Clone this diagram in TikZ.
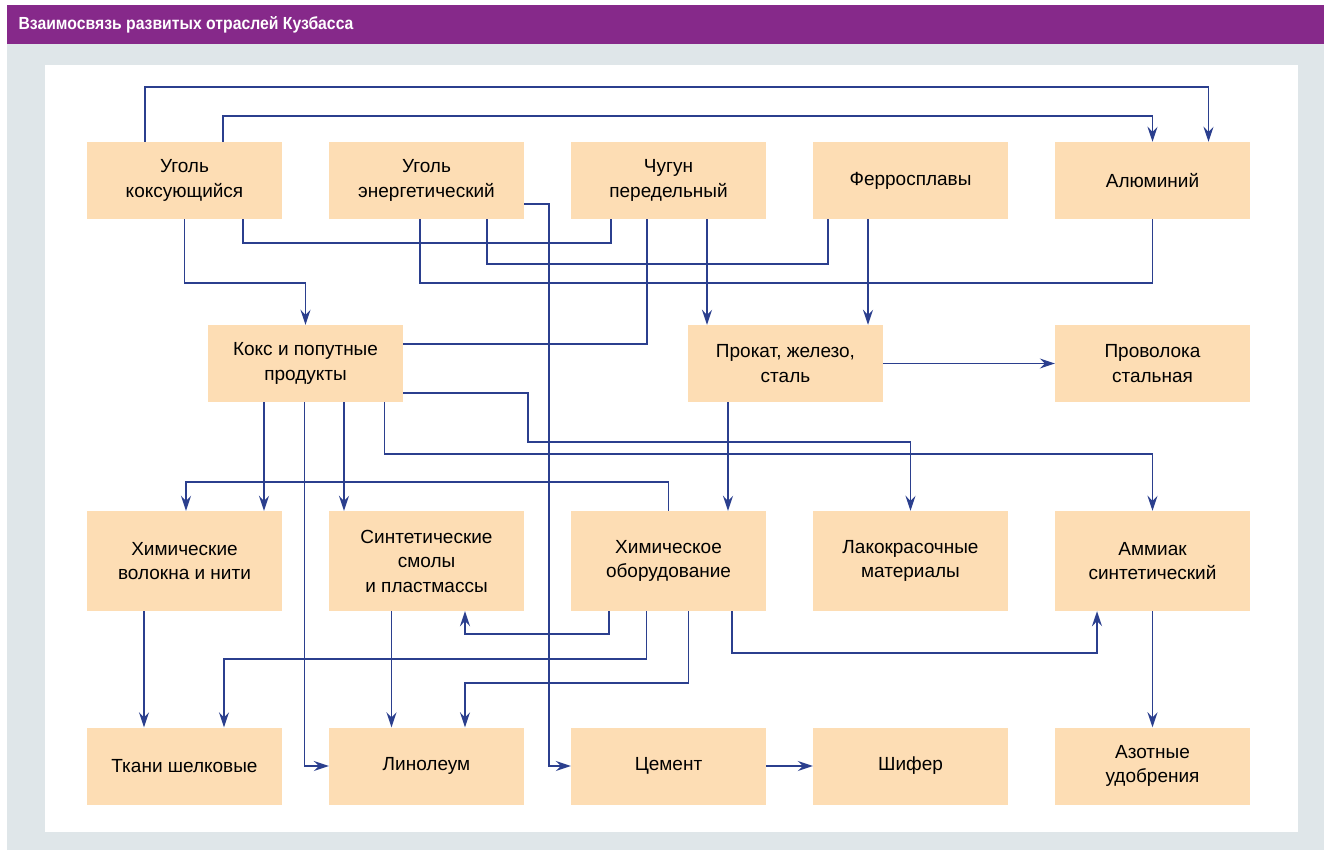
\documentclass[tikz,border=0pt]{standalone}
\usepackage{fontspec}
\setmainfont{Liberation Sans}
\newfontfamily\headfont{Liberation Sans}[FakeStretch=0.9]
\usepackage{tikz}
\usetikzlibrary{arrows.meta}
\definecolor{headpurple}{HTML}{86298A}
\definecolor{bggrey}{HTML}{DFE6E9}
\definecolor{boxfill}{HTML}{FDDDB4}
\definecolor{linecol}{HTML}{2B3F8E}
\newcommand{\Flow}[2]{\draw [arc] (#1) -- (#2);}

\begin{document}
\begin{tikzpicture}
[x=1pt, y=1pt,
 arc/.style={->,line width=1.7pt,draw=linecol,>={Stealth[length=15pt,width=10pt,inset=5pt]}},
 link/.style={line width=1.7pt,draw=linecol},
 box/.style={fill=boxfill,minimum width=195pt,minimum height=77pt,inner sep=0pt,
   align=center,font=\fontsize{19}{24.5}\selectfont},]

\useasboundingbox (0,0) rectangle (1324,-850);
\fill[bggrey] (7,-44) rectangle (1324,-850);
\fill[headpurple] (7,-5) rectangle (1324,-44);
\fill[white] (45,-65) rectangle (1298,-832);
\node [anchor=west,text=white,font=\headfont\bfseries\fontsize{17.5}{20}\selectfont] (title) at (15,-25) {Взаимосвязь развитых отраслей Кузбасса};

% row 1
\node [box] at (184.5,-180.5) (ugk) {Уголь\\коксующийся};
\node [box] at (426.5,-180.5) (uge) {Уголь\\энергетический};
\node [box] at (668.5,-180.5) (chug) {Чугун\\передельный};
\node [box] at (910.5,-180.5) (ferro) {Ферросплавы};
\node [box] at (1152.5,-180.5) (alu) {Алюминий};
% row 2
\node [box] at (305.5,-363.5) (koks) {Кокс и попутные\\продукты};
\node [box] at (785.5,-363.5) (prokat) {Прокат, железо,\\сталь};
\node [box] at (1152.5,-363.5) (provol) {Проволока\\стальная};
% row 3
\node [box,minimum height=100pt] at (184.5,-561) (volok) {Химические\\волокна и нити};
\node [box,minimum height=100pt] at (426.5,-561) (smoly) {Синтетические\\смолы\\и пластмассы};
\node [box,minimum height=100pt] at (668.5,-561) (himob) {Химическое\\оборудование};
\node [box,minimum height=100pt] at (910.5,-561) (lak) {Лакокрасочные\\материалы};
\node [box,minimum height=100pt] at (1152.5,-561) (ammiak) {Аммиак\\синтетический};
% row 4
\node [box] at (184.5,-766) (tkani) {Ткани шелковые};
\node [box] at (426.5,-766) (linol) {Линолеум};
\node [box] at (668.5,-766) (cement) {Цемент};
\node [box] at (910.5,-766) (shifer) {Шифер};
\node [box] at (1152.5,-766) (azot) {Азотные\\удобрения};

% top links
\draw [arc] ([xshift=-39.5pt]ugk.north) -- ++(0,55) -| ([xshift=56pt]alu.north);
\draw [arc] ([xshift=38.5pt]ugk.north) -- ++(0,26) -| (alu.north);
\draw [link] ([xshift=58.5pt]ugk.south) -- ++(0,-24) -| ([xshift=-57.5pt]chug.south);
\draw [link] ([xshift=60.5pt]uge.south) -- ++(0,-45) -| ([xshift=-82.5pt]ferro.south);
\draw [link] ([xshift=-6.5pt]uge.south) -- ++(0,-64) -| (alu.south);
\draw [arc] ([yshift=-23.5pt]uge.east) -- ++(24.5,0) |- (cement.west);
\draw [arc] (ugk.south) -- ++(0,-64) -| (koks.north);
\draw [link] ([xshift=-21.5pt]chug.south) |- ([yshift=19.5pt]koks.east);
\Flow{[xshift=38.5pt]chug.south}{[xshift=-78.5pt]prokat.north}
\Flow{[xshift=-42.5pt]ferro.south}{[xshift=82.5pt]prokat.north}
\Flow{prokat.east}{provol.west}
\Flow{[xshift=-57.5pt]prokat.south}{[xshift=59.5pt]himob.north}

% from koks
\Flow{[xshift=-41.5pt]koks.south}{[xshift=79.5pt]volok.north}
\draw [arc] ([xshift=-1pt]koks.south) |- (linol.west);
\Flow{[xshift=38.5pt]koks.south}{[xshift=-82.5pt]smoly.north}
\draw [arc] ([xshift=79pt]koks.south) -- ++(0,-52) -| (ammiak.north);
\draw [arc] ([yshift=-29.5pt]koks.east) -- ++(125,0) -- ++(0,-49) -| (lak.north);
\draw [arc] (himob.north) -- ++(0,29) -| ([xshift=1.5pt]volok.north);

% lower links
\Flow{[xshift=-40.5pt]volok.south}{[xshift=-40.5pt]tkani.north}
\Flow{[xshift=-35pt]smoly.south}{[xshift=-35pt]linol.north}
\draw [arc] ([xshift=-59.5pt]himob.south) -- ++(0,-23) -| ([xshift=38.5pt]smoly.south);
\draw [arc] ([xshift=-22pt]himob.south) -- ++(0,-48) -| ([xshift=39.5pt]tkani.north);
\draw [arc] ([xshift=20pt]himob.south) -- ++(0,-72) -| ([xshift=38.5pt]linol.north);
\draw [arc] ([xshift=63.5pt]himob.south) -- ++(0,-42) -| ([xshift=-55.5pt]ammiak.south);
\Flow{ammiak.south}{azot.north}
\Flow{cement.east}{shifer.west}
\end{tikzpicture}
\end{document}
